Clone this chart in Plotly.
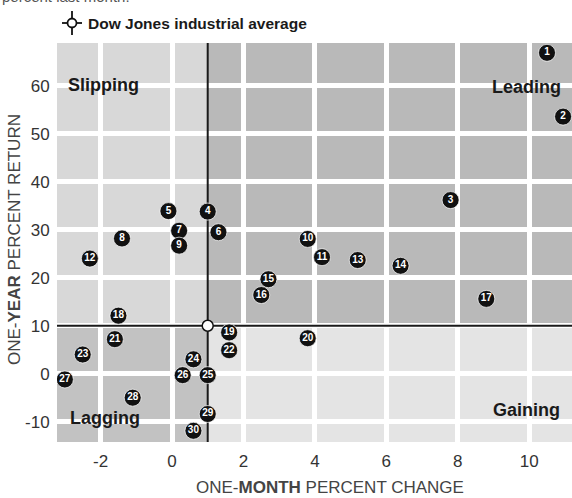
import plotly.graph_objects as go

# ---- data ----
stock_ids = [str(i) for i in range(1, 31)]
month_change = [10.5, 10.95, 7.8, 1.0, -0.1, 1.3, 0.2, -1.4, 0.2, 3.8,
                4.2, -2.3, 5.2, 6.4, 2.7, 2.5, 8.8, -1.5, 1.6, 3.8,
                -1.6, 1.6, -2.5, 0.6, 1.0, 0.3, -3.0, -1.1, 1.0, 0.6]
year_return = [66.9, 53.6, 36.2, 33.8, 33.9, 29.5, 29.8, 28.2, 26.7, 28.1,
               24.3, 24.0, 23.7, 22.5, 19.7, 16.4, 15.6, 12.1, 8.6, 7.4,
               7.2, 4.9, 4.0, 3.0, -0.3, -0.3, -1.2, -5.0, -8.4, -11.9]
dow_month = 1.0
dow_year = 10.0
x_ticks = [-2, 0, 2, 4, 6, 8, 10]
y_ticks = [-10, 0, 10, 20, 30, 40, 50, 60]
quadrant_labels = ["Slipping", "Leading", "Lagging", "Gaining"]
legend_label = "Dow Jones industrial average"

# ---- layout geometry ----
W, H = 572, 498
L, R, T, B = 57, 0, 43, 56
X_RANGE = [-3.22, 11.2]
Y_RANGE = [-14.24, 68.95]
PW, PH = W - L - R, H - T - B


def px_to_paper(px, py):
    return (px - L) / PW, (H - B - py) / PH


fig = go.Figure()

# Quadrant backgrounds
x0, x1 = X_RANGE
y0, y1 = Y_RANGE
quads = [
    (x0, dow_month, dow_year, y1, "#d8d8d8"),   # upper-left
    (dow_month, x1, dow_year, y1, "#b9b9b9"),   # upper-right
    (x0, dow_month, y0, dow_year, "#c2c2c2"),   # lower-left
    (dow_month, x1, y0, dow_year, "#e4e4e4"),   # lower-right
]
shapes = []
for qx0, qx1, qy0, qy1, col in quads:
    shapes.append(dict(type="rect", xref="x", yref="y", x0=qx0, x1=qx1, y0=qy0, y1=qy1,
                       fillcolor=col, line=dict(width=0), layer="below"))

# Dow reference lines
shapes.append(dict(type="line", xref="x", yref="y", x0=dow_month, x1=dow_month, y0=y0, y1=y1,
                   line=dict(color="#1a1a1a", width=2), layer="between"))
shapes.append(dict(type="line", xref="x", yref="y", x0=x0, x1=x1, y0=dow_year, y1=dow_year,
                   line=dict(color="#1a1a1a", width=2), layer="between"))

# Legend icon (crosshair circle)
cx, cy = 72, 23
r_c, arm = 4.5, 10
pcx0, pcy0 = px_to_paper(cx - r_c, cy + r_c)
pcx1, pcy1 = px_to_paper(cx + r_c, cy - r_c)
shapes.append(dict(type="circle", xref="paper", yref="paper", x0=pcx0, y0=pcy0, x1=pcx1, y1=pcy1,
                   line=dict(color="#111", width=1.8), fillcolor="white"))
for (ax0, ay0, ax1, ay1) in [(cx - arm, cy, cx - r_c, cy), (cx + r_c, cy, cx + arm, cy),
                             (cx, cy - arm - 2, cx, cy - r_c), (cx, cy + r_c, cx, cy + arm + 2)]:
    a0 = px_to_paper(ax0, ay0)
    a1 = px_to_paper(ax1, ay1)
    shapes.append(dict(type="line", xref="paper", yref="paper", x0=a0[0], y0=a0[1], x1=a1[0], y1=a1[1],
                       line=dict(color="#111", width=1.8)))

# Stocks
fig.add_trace(go.Scatter(
    x=month_change, y=year_return, mode="markers+text", text=stock_ids,
    textposition="middle center",
    textfont=dict(family="Liberation Sans, Arial, sans-serif", size=10, color="white", weight="bold"),
    marker=dict(size=17, color="#111111", line=dict(color="rgba(255,255,255,0.7)", width=1)),
    showlegend=False, hoverinfo="x+y+text",
))

# Dow point
fig.add_trace(go.Scatter(
    x=[dow_month], y=[dow_year], mode="markers",
    marker=dict(size=11, color="white", line=dict(color="#111", width=1.5)),
    showlegend=False, name=legend_label,
))

sans = "Liberation Sans, Arial, sans-serif"
annotations = []
qpos = [((66, 85), "left"), ((563, 87), "right"), ((68, 418), "left"), ((562, 410), "right")]
for label, ((qx, qy), anc) in zip(quadrant_labels, qpos):
    px_, py_ = px_to_paper(qx, qy)
    annotations.append(dict(xref="paper", yref="paper", x=px_, y=py_, text="<b>" + label + "</b>",
                            xanchor=anc, yanchor="middle", showarrow=False,
                            font=dict(family=sans, size=18, color="#1a1a1a")))

lx, ly = px_to_paper(86, 24)
annotations.append(dict(xref="paper", yref="paper", x=lx, y=ly, text="<b>" + legend_label + "</b>",
                        xanchor="left", yanchor="middle", showarrow=False,
                        font=dict(family=sans, size=15.5, color="#1a1a1a")))

tx, ty = px_to_paper(0, -3)
annotations.append(dict(xref="paper", yref="paper", x=tx, y=ty, text="percent last month.",
                        xanchor="left", yanchor="middle", showarrow=False,
                        font=dict(family=sans, size=15, color="#555")))

xt_x, xt_y = px_to_paper(330, 487)
annotations.append(dict(xref="paper", yref="paper", x=xt_x, y=xt_y,
                        text="ONE-<b>MONTH</b> PERCENT CHANGE", xanchor="center", yanchor="middle",
                        showarrow=False, font=dict(family=sans, size=17, color="#444")))
yt_x, yt_y = px_to_paper(14, 240)
annotations.append(dict(xref="paper", yref="paper", x=yt_x, y=yt_y, textangle=-90,
                        text="ONE-<b>YEAR</b> PERCENT RETURN", xanchor="center", yanchor="middle",
                        showarrow=False, font=dict(family=sans, size=17, color="#444")))

fig.update_layout(
    width=W, height=H,
    margin=dict(l=L, r=R, t=T, b=B, pad=0),
    paper_bgcolor="white", plot_bgcolor="white",
    shapes=shapes, annotations=annotations,
    showlegend=False,
    xaxis=dict(range=X_RANGE, tickvals=x_ticks, ticktext=[str(v) for v in x_ticks],
               showgrid=True, gridcolor="white", gridwidth=5, zeroline=False, showline=False,
               ticks="outside", ticklen=4, tickcolor="rgba(0,0,0,0)",
               tickfont=dict(family=sans, size=17, color="#333"), fixedrange=True),
    yaxis=dict(range=Y_RANGE, tickvals=y_ticks, ticktext=[str(v) for v in y_ticks],
               showgrid=True, gridcolor="white", gridwidth=5, zeroline=False, showline=False,
               ticks="outside", ticklen=3, tickcolor="rgba(0,0,0,0)",
               tickfont=dict(family=sans, size=17, color="#333"), fixedrange=True),
)

fig.write_html("out.html", config={"displayModeBar": False},
               post_script="document.body.style.margin='0';document.body.style.overflow='hidden';")
